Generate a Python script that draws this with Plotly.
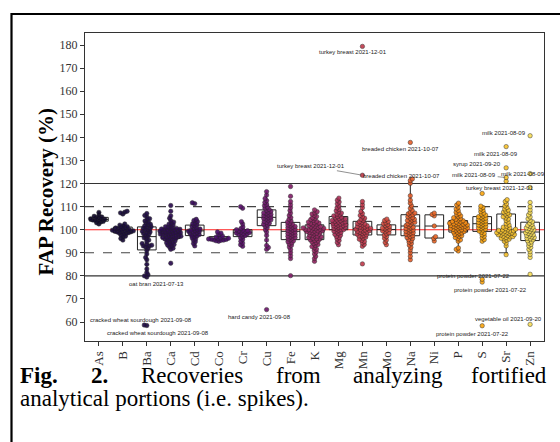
import numpy as np
import plotly.graph_objects as go
import plotly.colors as pc

# ---------------- data ----------------
elements = ["As", "B", "Ba", "Ca", "Cd", "Co", "Cr", "Cu", "Fe", "K",
            "Mg", "Mn", "Mo", "Na", "Ni", "P", "S", "Sr", "Zn"]

As = [102.5, 103.0, 103.3, 103.6, 103.8, 104.0, 104.2, 104.4, 104.5, 104.7,
      105.0, 105.2, 105.5, 105.8, 106.3, 107.5]
B = [95.5, 96.2, 96.8, 97.2, 97.6, 98.0, 98.3, 98.5, 98.7, 98.9, 99.0, 99.1,
     99.3, 99.4, 99.5, 99.6, 99.7, 99.8, 100.0, 100.2, 100.4, 100.6, 100.8,
     101.0, 101.3, 101.6, 102.0, 102.5, 106.8, 107.3, 107.6, 108.0]
Ba = [58.5, 58.7, 79.5, 80.0, 80.5, 81.5, 83.0, 85.0, 87.0, 88.0, 89.5, 91.0,
      92.0, 92.5, 93.0, 93.0, 93.3, 93.6, 94.0, 94.8, 95.5, 96.0, 96.5, 97.0,
      97.5, 98.0, 98.3, 98.6, 99.0, 99.3, 99.6, 100.0, 100.3, 100.6, 101.0,
      101.3, 101.6, 102.0, 102.4, 102.8, 103.3, 103.8, 104.3, 104.8, 105.5,
      106.2, 107.0]
Ca = [85.5, 91.5, 92.0, 92.5, 93.0, 93.3, 93.6, 94.0, 94.3, 94.6, 95.0, 95.2,
      95.5, 95.8, 96.0, 96.2, 96.3, 96.4, 96.6, 96.8, 97.0, 97.1, 97.2, 97.4,
      97.5, 97.6, 97.8, 98.0, 98.1, 98.2, 98.3, 98.5, 98.6, 98.7, 98.9, 99.0,
      99.1, 99.2, 99.4, 99.5, 99.6, 99.8, 99.9, 100.0, 100.2, 100.3, 100.4,
      100.6, 100.8, 101.0, 101.3, 101.6, 102.0, 102.4, 102.8, 103.3, 104.0,
      105.0, 106.0, 108.0, 110.5]
Cd = [93.0, 94.0, 94.8, 95.5, 96.0, 96.5, 97.0, 97.3, 97.6, 97.9, 98.2, 98.5,
      98.8, 99.0, 99.2, 99.4, 99.6, 99.8, 100.0, 100.3, 100.6, 101.0, 101.4,
      101.8, 102.2, 102.6, 103.0, 103.5, 104.0, 104.5, 111.3, 111.7]
Co = [95.0, 95.2, 95.4, 95.5, 95.6, 95.8, 95.9, 96.0, 96.1, 96.3, 96.5, 96.8,
      97.2, 98.0, 98.5, 99.0]
Cr = [92.8, 93.5, 94.2, 95.0, 95.8, 96.5, 97.0, 97.5, 97.8, 98.0, 98.2, 98.4,
      98.6, 98.8, 99.0, 99.2, 99.4, 99.6, 99.8, 100.0, 100.5, 101.2, 102.5,
      103.5, 109.3, 110.0]
Cu = [65.4, 91.5, 92.3, 93.2, 95.5, 97.5, 99.0, 100.0, 100.8, 101.5, 102.0,
      102.4, 102.8, 103.2, 103.6, 104.0, 104.3, 104.6, 104.9, 105.2, 105.5,
      105.8, 106.1, 106.4, 106.7, 107.0, 107.3, 107.6, 108.0, 108.4, 108.8,
      109.3, 109.8, 110.4, 111.0, 111.8, 112.6, 113.5, 115.0, 116.5]
Fe = [80.1, 87.5, 88.8, 90.2, 91.5, 92.5, 93.2, 93.8, 94.3, 94.8, 95.2, 95.6,
      96.0, 96.3, 96.6, 96.9, 97.2, 97.5, 97.8, 98.1, 98.4, 98.7, 99.0, 99.3,
      99.6, 99.9, 100.2, 100.5, 100.8, 101.1, 101.4, 101.7, 102.0, 102.4,
      102.8, 103.3, 103.8, 104.5, 105.3, 106.2, 107.2, 108.3, 109.5, 110.8,
      112.2, 114.5, 118.7]
K = [86.3, 87.5, 88.5, 89.5, 90.3, 91.0, 91.6, 92.2, 92.7, 93.2, 93.6, 94.0,
     94.4, 94.8, 95.1, 95.4, 95.7, 96.0, 96.1, 96.3, 96.6, 96.9, 97.1, 97.2,
     97.4, 97.7, 98.0, 98.2, 98.5, 98.7, 98.8, 99.0, 99.2, 99.4, 99.5, 99.6,
     99.8, 100.0, 100.1, 100.2, 100.4, 100.6, 100.7, 100.8, 101.0, 101.2,
     101.3, 101.5, 101.8, 102.1, 102.4, 102.7, 102.9, 103.0, 103.3, 103.6,
     104.0, 104.4, 104.8, 105.2, 105.7, 106.2, 106.8, 107.3, 107.8, 108.6]
Mg = [93.5, 94.5, 95.3, 96.0, 96.6, 97.1, 97.6, 98.0, 98.4, 98.8, 99.1, 99.4,
      99.7, 100.0, 100.1, 100.3, 100.6, 100.9, 101.0, 101.2, 101.4, 101.7,
      101.8, 102.0, 102.2, 102.5, 102.6, 102.8, 103.0, 103.3, 103.4, 103.6,
      103.9, 104.0, 104.2, 104.5, 104.6, 104.8, 105.1, 105.4, 105.7, 106.0,
      106.4, 106.8, 107.2, 107.7, 108.2, 108.8, 109.5, 110.3, 111.2, 112.0,
      112.8, 113.7]
Mn = [85.2, 92.8, 93.6, 94.3, 94.9, 95.4, 95.9, 96.3, 96.7, 97.1, 97.3, 97.5,
      97.8, 98.1, 98.4, 98.7, 98.9, 99.0, 99.3, 99.5, 99.6, 99.9, 100.0,
      100.2, 100.5, 100.6, 100.8, 101.1, 101.2, 101.4, 101.7, 102.0, 102.3,
      102.5, 102.7, 103.1, 103.5, 104.0, 104.5, 105.0, 105.6, 106.2, 107.0,
      107.9, 109.5, 110.8, 112.2, 123.6, 179.4]
Mo = [93.5, 94.5, 95.5, 96.3, 97.0, 97.6, 98.2, 98.7, 99.1, 99.5, 99.8, 100.1,
      100.4, 100.7, 101.0, 101.4, 101.8, 102.2, 102.6, 103.0, 103.5, 104.0,
      104.6]
Na = [87.0, 88.5, 90.0, 91.3, 92.4, 93.3, 94.0, 94.6, 95.2, 95.7, 96.2, 96.6,
      97.0, 97.4, 97.8, 98.1, 98.4, 98.7, 99.0, 99.3, 99.6, 99.9, 100.2,
      100.5, 100.8, 101.1, 101.4, 101.8, 102.2, 102.6, 103.0, 103.2, 103.5,
      104.0, 104.2, 104.5, 105.0, 105.3, 105.6, 106.2, 106.5, 106.9, 107.2,
      107.6, 108.4, 109.3, 110.3, 111.5, 112.8, 114.7, 120.1, 121.3, 122.0,
      137.8]
Ni = [95.1, 96.2, 97.0, 101.6, 106.0, 106.6, 107.2]
P = [90.8, 91.5, 92.1, 95.0, 95.6, 96.1, 96.6, 97.0, 97.4, 97.7, 98.0, 98.3,
     98.6, 98.9, 99.0, 99.2, 99.5, 99.8, 100.0, 100.1, 100.2, 100.4, 100.6,
     100.8, 100.9, 101.0, 101.2, 101.4, 101.5, 101.6, 101.8, 102.0, 102.1,
     102.2, 102.4, 102.6, 102.7, 102.8, 103.0, 103.3, 103.4, 103.6, 103.9,
     104.2, 104.5, 104.8, 105.2, 105.6, 106.0, 106.5, 107.0, 107.6, 108.3,
     109.0, 109.8, 110.7, 111.5]
S = [58.4, 77.3, 78.5, 95.0, 95.7, 96.5, 97.2, 97.8, 98.4, 98.9, 99.4, 99.8,
     100.2, 100.5, 100.8, 101.1, 101.4, 101.7, 102.0, 102.3, 102.6, 102.9,
     103.2, 103.5, 103.8, 104.1, 104.4, 104.7, 105.0, 105.3, 105.6, 105.9,
     106.3, 106.7, 107.2, 107.8, 108.4, 109.0, 109.6, 110.2, 115.7]
Sr = [89.2, 93.0, 94.2, 95.0, 95.5, 95.9, 96.1, 96.3, 96.6, 96.9, 97.0, 97.2,
      97.5, 97.7, 97.8, 97.9, 98.1, 98.3, 98.5, 98.6, 98.7, 98.9, 99.1, 99.3,
      99.4, 99.5, 99.7, 99.9, 100.0, 100.2, 100.5, 100.8, 101.1, 101.5, 102.0,
      102.6, 103.3, 104.0, 104.6, 105.1, 105.6, 106.0, 106.4, 106.8, 107.2,
      107.6, 108.0, 108.5, 109.0, 109.6, 110.3, 111.2, 112.2, 113.0, 121.0,
      122.6, 126.8, 136.0]
Zn = [59.0, 80.7, 88.0, 89.3, 90.5, 91.5, 92.3, 93.0, 93.6, 94.2, 94.7, 95.2,
      95.6, 96.0, 96.3, 96.6, 96.9, 97.2, 97.5, 97.8, 98.1, 98.4, 98.7, 99.0,
      99.3, 99.6, 99.9, 100.2, 100.5, 100.8, 101.1, 101.5, 101.9, 102.3,
      102.8, 103.4, 104.0, 104.7, 105.5, 106.4, 107.4, 108.6, 110.0, 111.8,
      118.3, 124.3, 140.7]

series = [As, B, Ba, Ca, Cd, Co, Cr, Cu, Fe, K, Mg, Mn, Mo, Na, Ni, P, S, Sr, Zn]

# labelled samples
label_texts = ["turkey breast 2021-12-01", "breaded chicken 2021-10-07",
               "turkey breast 2021-12-01", "breaded chicken 2021-10-07",
               "milk 2021-08-09", "milk 2021-08-09", "syrup 2021-09-20",
               "milk 2021-08-09", "milk 2021-08-09", "turkey breast 2021-12-01",
               "protein powder 2021-07-22", "protein powder 2021-07-22",
               "vegetable oil 2021-09-20", "protein powder 2021-07-22",
               "cracked wheat sourdough 2021-09-08",
               "cracked wheat sourdough 2021-09-08",
               "oat bran 2021-07-13", "hard candy 2021-09-08"]
label_elem = ["Mn", "Na", "Mn", "Na", "Zn", "Sr", "Sr", "Sr", "Zn", "Zn",
              "Zn", "S", "Zn", "S", "Ba", "Ba", "Ba", "Cu"]
label_val = [179.4, 137.8, 123.6, 121.3, 140.7, 136.0, 126.8, 122.6, 124.3,
             118.3, 80.7, 78.5, 59.0, 58.4, 58.7, 58.5, 80.0, 65.4]

caption_line1 = ["Fig.", "2.", "Recoveries", "from", "analyzing", "fortified"]
caption_line2 = "analytical portions (i.e. spikes)."

# ---------------- geometry ----------------
W, H = 560, 442
ML, MR, MT, MB = 85, 16, 33, 101
PW, PH = W - ML - MR, H - MT - MB
XR = [-0.58, 18.58]
YR = [51.8, 185.2]
xs = PW / (XR[1] - XR[0])
ys = PH / (YR[1] - YR[0])


def swarm(vals, d=2.6):
    vals = np.asarray(vals, float)
    order = np.argsort(vals, kind="stable")
    px, py = [], []
    offs = np.zeros(len(vals))
    sgn = 1
    for i in order:
        y = vals[i] * ys
        iv = []
        for a, b in zip(px, py):
            dy = abs(y - b)
            if dy < d:
                h = np.sqrt(d * d - dy * dy)
                iv.append((a - h, a + h))
        cands = [0.0] + [l for l, r in iv] + [r for l, r in iv]
        cands.sort(key=lambda c: (round(abs(c), 6), -sgn * c))
        best = 0.0
        for c in cands:
            if all(not (l + 1e-7 < c < r - 1e-7) for l, r in iv):
                best = c
                break
        sgn = -sgn
        px.append(best)
        py.append(y)
        offs[i] = best / xs
    return offs


cpos = [0.07, 0.10, 0.12, 0.15, 0.18, 0.22, 0.26, 0.31, 0.36, 0.41, 0.47,
        0.52, 0.58, 0.64, 0.66, 0.74, 0.80, 0.86, 0.92]
colors = pc.sample_colorscale("Inferno", cpos)

fig = go.Figure()

for i, (el, vals) in enumerate(zip(elements, series)):
    off = swarm(vals)
    fig.add_trace(go.Scatter(
        x=i + off, y=vals, mode="markers", showlegend=False,
        marker=dict(size=4.4, color=colors[i], opacity=0.92,
                    line=dict(color="#262626", width=0.5))))

for i, (el, vals) in enumerate(zip(elements, series)):
    fig.add_trace(go.Box(
        x=[i] * len(vals), y=vals, width=0.78, boxpoints="outliers",
        marker=dict(size=1, opacity=0), whiskerwidth=0,
        line=dict(color="#222222", width=1), fillcolor="rgba(0,0,0,0)",
        showlegend=False))

# reference lines
for yv, col, dash in [(80, "#333", "solid"), (120, "#333", "solid"),
                      (90, "#444", "dash"), (110, "#444", "dash"),
                      (100, "#ff2020", "solid")]:
    fig.add_shape(type="line", xref="paper", x0=0, x1=1, yref="y", y0=yv, y1=yv,
                  line=dict(color=col, width=1.1, dash=dash), layer="below")

# labels: offsets of text centre from the point, in px (right / down)
label_dx = [-9, -10, -51, -9, -26, -10, -29, -32, -7, -30,
            -57, 8, -22, -10, -6, 11, 10, -7]
label_dy = [6, 7, -9, -5, -3, 7, -4, -3, 0, 1,
            2, 11, -5, 8, -5, 7, 8, 7]
for t, el, v, dx, dy in zip(label_texts, label_elem, label_val, label_dx, label_dy):
    k = elements.index(el)
    arrow = abs(dx) > 30 and el in ("Mn", "Sr")
    fig.add_annotation(x=k, y=v, xref="x", yref="y", text=t,
                       showarrow=arrow, arrowhead=0, arrowwidth=0.6,
                       arrowcolor="#444", ax=dx, ay=dy, standoff=1,
                       xshift=0 if arrow else dx, yshift=0 if arrow else -dy,
                       font=dict(family="Liberation Sans", size=6, color="#222"))

SERIF = "Liberation Serif, Times New Roman, serif"

# y title
fig.add_annotation(xref="paper", yref="paper", x=(45.5 - ML) / PW,
                   y=(H - MB - 192) / PH, xanchor="center", yanchor="middle",
                   text="<b>FAP Recovery (%)</b>",
                   textangle=-90, showarrow=False,
                   font=dict(family=SERIF, size=21, color="black"))

# caption: first line fully justified (Times metrics), second line plain
tw = {"a": 444, "c": 444, "d": 500, "e": 444, "f": 333, "g": 500,
      "i": 278, "l": 278, "m": 778, "n": 500, "o": 500, "r": 333, "s": 389,
      "t": 278, "v": 500, "y": 500, "z": 444, "R": 667, ".": 250}
tb = {"F": 611, "i": 278, "g": 500, ".": 250, "2": 500}
FS = 23
wid = [sum((tb if k < 2 else tw)[c] for c in w) * FS / 1000
       for k, w in enumerate(caption_line1)]
x0, x1 = 18, 549
gap = (x1 - x0 - sum(wid)) / (len(caption_line1) - 1)
cx = x0
for k, (w, ww) in enumerate(zip(caption_line1, wid)):
    last = k == len(caption_line1) - 1
    xp = x1 if last else cx
    fig.add_annotation(xref="paper", yref="paper", x=(xp - ML) / PW,
                       y=(H - MB - 375) / PH,
                       xanchor="right" if last else "left", yanchor="middle",
                       text=f"<b>{w}</b>" if k < 2 else w, showarrow=False,
                       font=dict(family=SERIF, size=FS, color="black"))
    cx += ww + gap
fig.add_annotation(xref="paper", yref="paper", x=(x0 - ML) / PW,
                   y=(H - MB - 398.5) / PH, xanchor="left", yanchor="middle",
                   text=caption_line2, showarrow=False,
                   font=dict(family=SERIF, size=FS, color="black"))

# outer frame
fig.add_shape(type="rect", xref="paper", yref="paper",
              x0=(11.5 - ML) / PW, x1=(565 - ML) / PW,
              y0=(H - MB - 450) / PH, y1=(H - MB - 14) / PH,
              line=dict(color="black", width=2.2))

fig.update_layout(
    width=W, height=H, margin=dict(l=ML, r=MR, t=MT, b=MB),
    plot_bgcolor="white", paper_bgcolor="white", showlegend=False,
    xaxis=dict(range=XR, tickmode="array", tickvals=list(range(len(elements))),
               ticktext=elements, tickangle=-90, ticks="outside", ticklen=4,
               tickcolor="#333", showgrid=False, zeroline=False,
               showline=True, mirror=True, linecolor="#333", linewidth=1,
               tickfont=dict(family=SERIF, size=13, color="#333")),
    yaxis=dict(range=YR, tickmode="array", tickvals=list(range(60, 181, 10)),
               ticks="outside", ticklen=4, tickcolor="#333", showgrid=False,
               zeroline=False, showline=True, mirror=True, linecolor="#333",
               linewidth=1,
               tickfont=dict(family=SERIF, size=12, color="#333")),
)

fig.write_html("out.html")
